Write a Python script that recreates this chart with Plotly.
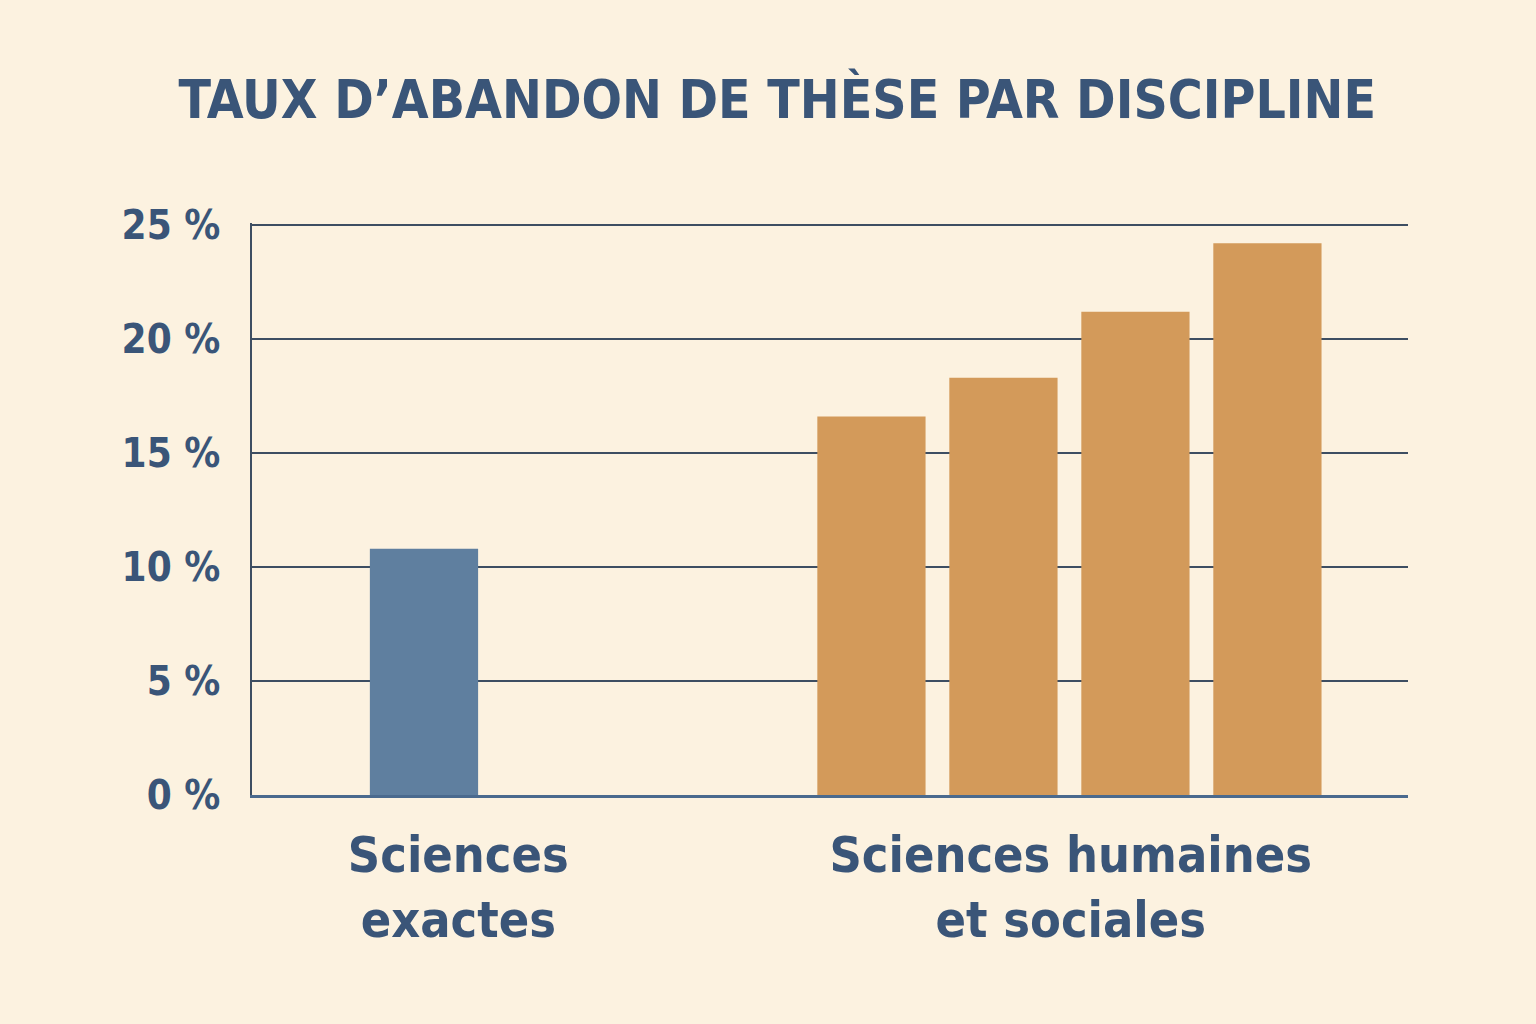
import plotly.graph_objects as go

# data (percent)
groups = ["Sciences<br>exactes", "Sciences humaines<br>et sociales"]
exactes_vals = [10.8]
shs_vals = [16.6, 18.3, 21.2, 24.2]
y_ticks = [0, 5, 10, 15, 20, 25]
title = "TAUX D\u2019ABANDON DE THÈSE PAR DISCIPLINE"

BG = "#fcf2e0"
INK = "#3a5578"
BLUE = "#5f7f9f"
ORANGE = "#d39a5a"
FONT = "DejaVu Sans Condensed, Roboto Condensed, Roboto, sans-serif"

# layout of the bars on a numeric x axis (one unit = spacing between bars)
gap = 3.39
x_exactes = [i for i in range(len(exactes_vals))]
x_shs = [gap + i for i in range(len(shs_vals))]
label_pos = [0.26, gap + (len(shs_vals) - 1) / 2 + 0.01]

fig = go.Figure()
fig.add_trace(go.Bar(x=x_exactes, y=exactes_vals, width=0.82,
                     marker=dict(color=BLUE, line=dict(width=0)),
                     showlegend=False))
fig.add_trace(go.Bar(x=x_shs, y=shs_vals, width=0.82,
                     marker=dict(color=ORANGE, line=dict(width=0)),
                     showlegend=False))

fig.update_layout(
    width=1536, height=1024,
    paper_bgcolor=BG, plot_bgcolor=BG,
    margin=dict(l=252, r=128, t=223, b=229),
    title=dict(text="<b>" + title + "</b>", x=0.506, xanchor="center",
               y=0.903, yanchor="middle",
               font=dict(family=FONT, size=53, color=INK)),
    font=dict(family=FONT, color=INK),
)
fig.update_xaxes(range=[-1.303, 7.455], showgrid=False, zeroline=False,
                 tickmode="array", tickvals=label_pos, ticktext=groups,
                 tickfont=dict(family=FONT, size=50, color=INK, weight="bold"),
                 showline=True, linecolor="#4a6a8e", linewidth=3,
                 ticks="", ticklabelstandoff=14)
fig.update_yaxes(range=[0, 25.09], tickmode="array", tickvals=y_ticks,
                 ticktext=[f"{v} %" for v in y_ticks],
                 tickfont=dict(family=FONT, size=40, color=INK, weight="bold"),
                 showgrid=True, gridcolor="#3d4e62", gridwidth=1.6,
                 zeroline=False, showline=True, linecolor="#3d4e62",
                 linewidth=1.5, ticks="", ticklabelstandoff=22)

fig.write_html("out.html", config={"displayModeBar": False},
               post_script="document.body.style.margin='0';")
